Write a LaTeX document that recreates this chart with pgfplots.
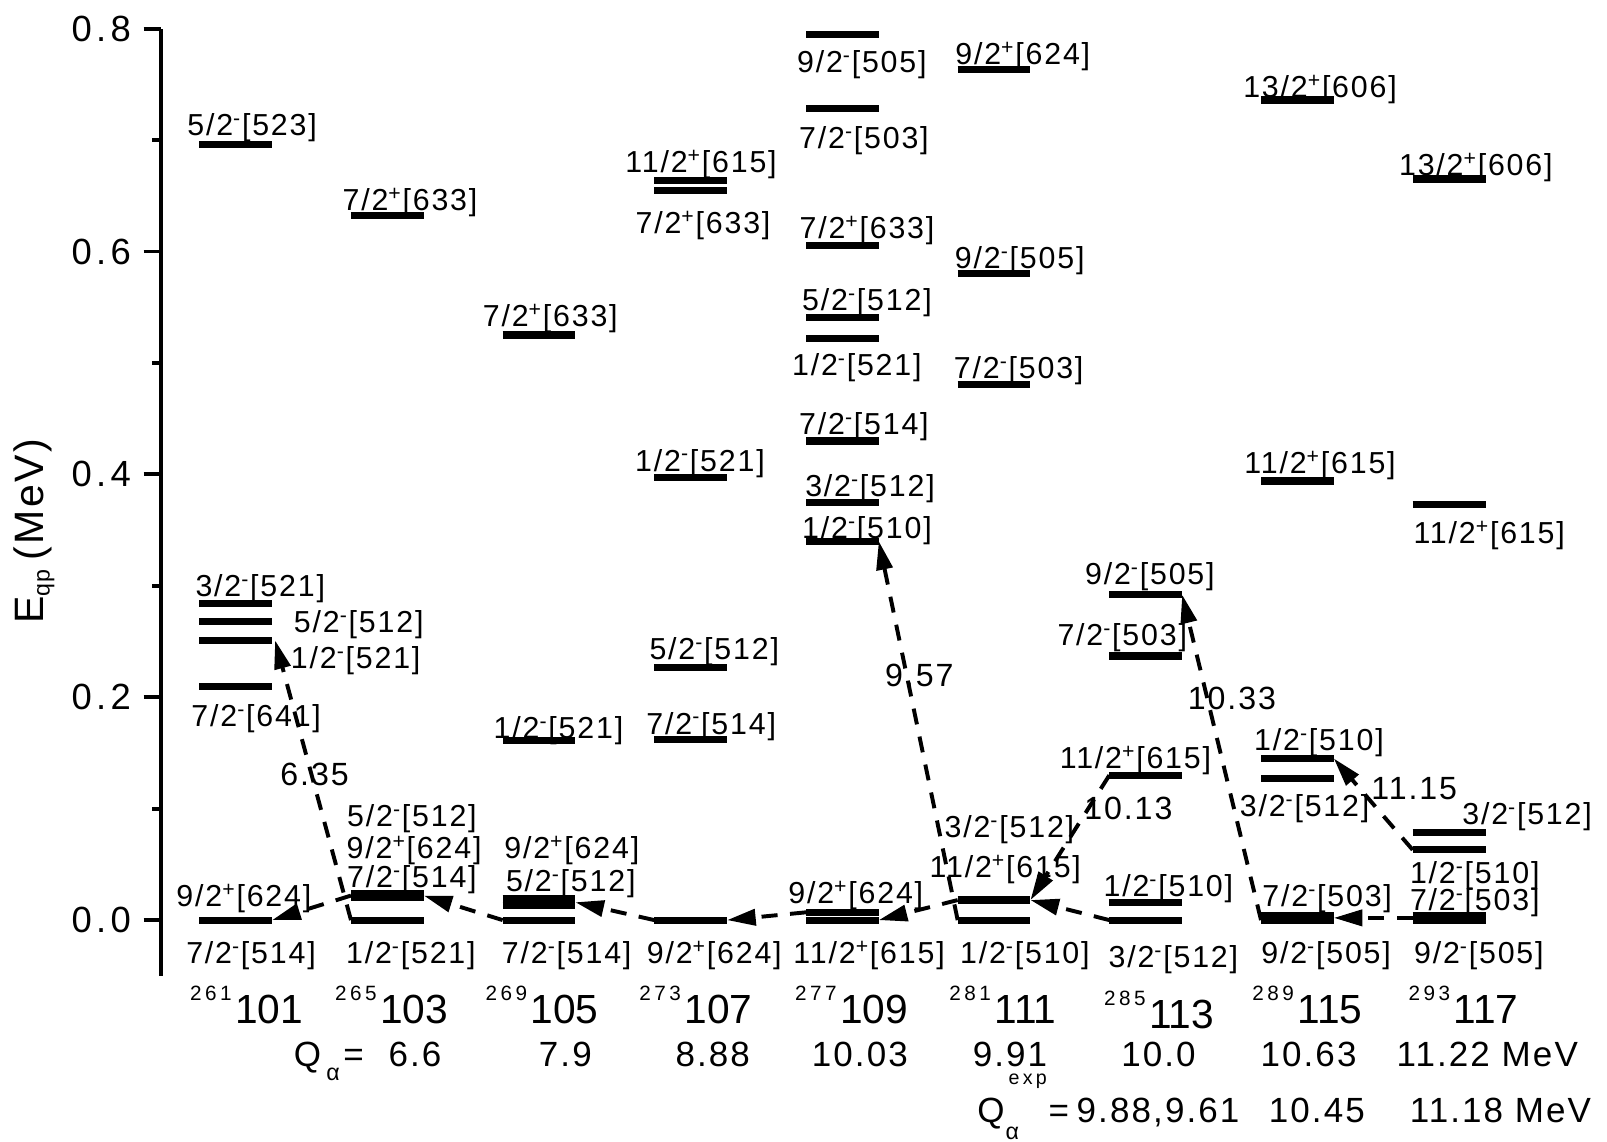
\documentclass[border=0pt]{standalone}
\usepackage{fontspec}
\setmainfont{Liberation Sans}[LetterSpace=6]
\newfontfamily\tickfont{Liberation Sans}[LetterSpace=12]
\newfontfamily\nucfont{Liberation Sans}
\newfontfamily\supfont{Liberation Sans}[LetterSpace=17]
\usepackage{pgfplots}
\pgfplotsset{compat=1.18}
\usetikzlibrary{arrows.meta}

% fonts used in the level scheme
\newcommand{\levfont}{\fontsize{8.5}{10}\selectfont}
\newcommand{\qfont}{\fontsize{9.8}{12}\selectfont}
\newcommand{\valfont}{\fontsize{9}{11}\selectfont}
% Nilsson label  K^pi [N nz Lambda]
\newcommand{\q}[3]{#1/2\textsuperscript{#2}[#3]}
% one single-particle level: x from #1 to #2 at energy #3
\newcommand{\lev}[3]{\addplot[lev] coordinates {(#1,#3) (#2,#3)};}
% label of a level: centre x, baseline energy, text
\newcommand{\lab}[3]{\node[anchor=base, inner sep=0pt, font=\levfont] at (axis cs:#1,#2) {#3};}
% nucleus: centre x, baseline, mass number, Z
\newcommand{\nuc}[4]{\node[anchor=base, inner sep=0pt, font=\nucfont\fontsize{11.4}{13}\selectfont] at (axis cs:#1,#2) {\raisebox{6.5pt}{\supfont\fontsize{5.8}{7}\selectfont #3}\kern1pt#4};}
% Q value under a nucleus
\newcommand{\qv}[3]{\node[anchor=base, inner sep=0pt, font=\qfont] at (axis cs:#1,#2) {#3};}

\begin{document}
\begin{tikzpicture}[
  lev/.style={line width=2pt, black, line cap=butt},
  arr/.style={line width=1.1pt, black, dash pattern=on 4.5pt off 3.5pt,
              -{Triangle[length=8pt,width=4.5pt]}}
]
\begin{axis}[
  x=42.48pt, y=312.1pt,
  xmin=0.51, xmax=10.04, ymin=-0.05, ymax=0.8,
  axis x line=none,
  axis y line*=left,
  clip=false,
  xtick=\empty,
  ytick={0,0.2,0.4,0.6,0.8},
  yticklabels={0.0,0.2,0.4,0.6,0.8},
  minor ytick={0.1,0.3,0.5,0.7},
  tick align=outside,
  major tick length=5pt,
  minor tick length=2.5pt,
  tick style={line width=1.1pt, black},
  axis line style={line width=1.1pt},
  yticklabel style={font=\tickfont\fontsize{10.2}{12}\selectfont},
]
\coordinate (bbsw) at (axis cs:-0.554,-0.1986);
\coordinate (bbne) at (axis cs:10.041,0.8257);

% ---- 261 101
\lev{0.76}{1.24}{0.696}
\lev{0.76}{1.24}{0.284}
\lev{0.76}{1.24}{0.268}
\lev{0.76}{1.24}{0.251}
\lev{0.76}{1.24}{0.210}
\lev{0.76}{1.24}{0.000}
% ---- 265 103
\lev{1.76}{2.24}{0.632}
\lev{1.76}{2.24}{0.024}
\lev{1.76}{2.24}{0.020}
\lev{1.76}{2.24}{0.000}
% ---- 269 105
\lev{2.76}{3.24}{0.525}
\lev{2.76}{3.24}{0.161}
\lev{2.76}{3.24}{0.019}
\lev{2.76}{3.24}{0.013}
\lev{2.76}{3.24}{0.000}
% ---- 273 107
\lev{3.76}{4.24}{0.664}
\lev{3.76}{4.24}{0.655}
\lev{3.76}{4.24}{0.397}
\lev{3.76}{4.24}{0.227}
\lev{3.76}{4.24}{0.162}
\lev{3.76}{4.24}{0.000}
% ---- 277 109
\lev{4.76}{5.24}{0.795}
\lev{4.76}{5.24}{0.728}
\lev{4.76}{5.24}{0.605}
\lev{4.76}{5.24}{0.541}
\lev{4.76}{5.24}{0.522}
\lev{4.76}{5.24}{0.430}
\lev{4.76}{5.24}{0.375}
\lev{4.76}{5.24}{0.340}
\lev{4.76}{5.24}{0.007}
\lev{4.76}{5.24}{0.000}
% ---- 281 111
\lev{5.76}{6.24}{0.763}
\lev{5.76}{6.24}{0.580}
\lev{5.76}{6.24}{0.481}
\lev{5.76}{6.24}{0.018}
\lev{5.76}{6.24}{0.000}
% ---- 285 113
\lev{6.76}{7.24}{0.292}
\lev{6.76}{7.24}{0.237}
\lev{6.76}{7.24}{0.130}
\lev{6.76}{7.24}{0.016}
\lev{6.76}{7.24}{0.000}
% ---- 289 115
\lev{7.76}{8.24}{0.736}
\lev{7.76}{8.24}{0.394}
\lev{7.76}{8.24}{0.145}
\lev{7.76}{8.24}{0.127}
\lev{7.76}{8.24}{0.004}
\lev{7.76}{8.24}{0.000}
% ---- 293 117
\lev{8.76}{9.24}{0.665}
\lev{8.76}{9.24}{0.373}
\lev{8.76}{9.24}{0.079}
\lev{8.76}{9.24}{0.063}
\lev{8.76}{9.24}{0.004}
\lev{8.76}{9.24}{0.000}

% ---- alpha-decay paths
\addplot[arr] coordinates {(1.76,0.000) (1.26,0.251)};
\addplot[arr] coordinates {(1.76,0.022) (1.24,0.000)};
\addplot[arr] coordinates {(2.76,0.000) (2.24,0.022)};
\addplot[arr] coordinates {(3.76,0.000) (3.24,0.016)};
\addplot[arr] coordinates {(4.76,0.007) (4.24,0.000)};
\addplot[arr] coordinates {(5.76,0.018) (5.24,0.000)};
\addplot[arr] coordinates {(5.76,0.000) (5.24,0.340)};
\addplot[arr] coordinates {(6.76,0.130) (6.24,0.018)};
\addplot[arr] coordinates {(6.76,0.000) (6.24,0.018)};
\addplot[arr] coordinates {(7.76,0.000) (7.24,0.292)};
\addplot[arr] coordinates {(8.76,0.002) (8.24,0.002)};
\addplot[arr] coordinates {(8.76,0.063) (8.24,0.145)};

% ---- level labels
\lab{1.108}{0.704}{\q{5}{-}{523}}
\lab{1.162}{0.290}{\q{3}{-}{521}}
\lab{1.811}{0.258}{\q{5}{-}{512}}
\lab{1.791}{0.226}{\q{1}{-}{521}}
\lab{1.135}{0.174}{\q{7}{-}{641}}
\lab{1.054}{0.012}{\q{9}{+}{624}}
\lab{1.101}{-0.0386}{\q{7}{-}{514}}

\lab{2.149}{0.637}{\q{7}{+}{633}}
\lab{2.162}{0.0837}{\q{5}{-}{512}}
\lab{2.176}{0.055}{\q{9}{+}{624}}
\lab{2.162}{0.0294}{\q{7}{-}{514}}
\lab{2.155}{-0.0386}{\q{1}{-}{521}}

\lab{3.074}{0.533}{\q{7}{+}{633}}
\lab{3.128}{0.163}{\q{1}{-}{521}}
\lab{3.216}{0.055}{\q{9}{+}{624}}
\lab{3.209}{0.0257}{\q{5}{-}{512}}
\lab{3.182}{-0.0386}{\q{7}{-}{514}}

\lab{4.068}{0.671}{\q{11}{+}{615}}
\lab{4.081}{0.616}{\q{7}{+}{633}}
\lab{4.061}{0.403}{\q{1}{-}{521}}
\lab{4.155}{0.2336}{\q{5}{-}{512}}
\lab{4.135}{0.167}{\q{7}{-}{514}}
\lab{4.155}{-0.0386}{\q{9}{+}{624}}

\lab{5.128}{0.761}{\q{9}{-}{505}}
\lab{5.142}{0.692}{\q{7}{-}{503}}
\lab{5.162}{0.612}{\q{7}{+}{633}}
\lab{5.162}{0.547}{\q{5}{-}{512}}
\lab{5.095}{0.489}{\q{1}{-}{521}}
\lab{5.142}{0.436}{\q{7}{-}{514}}
\lab{5.182}{0.380}{\q{3}{-}{512}}
\lab{5.162}{0.342}{\q{1}{-}{510}}
\lab{5.088}{0.0147}{\q{9}{+}{624}}
\lab{5.176}{-0.0386}{\q{11}{+}{615}}

\lab{6.189}{0.768}{\q{9}{+}{624}}
\lab{6.169}{0.585}{\q{9}{-}{505}}
\lab{6.162}{0.486}{\q{7}{-}{503}}
\lab{6.101}{0.0745}{\q{3}{-}{512}}
\lab{6.074}{0.0386}{\q{11}{+}{615}}
\lab{6.203}{-0.0386}{\q{1}{-}{510}}

\lab{7.027}{0.301}{\q{9}{-}{505}}
\lab{6.845}{0.246}{\q{7}{-}{503}}
\lab{6.932}{0.136}{\q{11}{+}{615}}
\lab{7.149}{0.0211}{\q{1}{-}{510}}
\lab{7.182}{-0.0423}{\q{3}{-}{512}}

\lab{8.149}{0.738}{\q{13}{+}{606}}
\lab{8.149}{0.401}{\q{11}{+}{615}}
\lab{8.142}{0.152}{\q{1}{-}{510}}
\lab{8.047}{0.0928}{\q{3}{-}{512}}
\lab{8.196}{0.012}{\q{7}{-}{503}}
\lab{8.189}{-0.0386}{\q{9}{-}{505}}

\lab{9.176}{0.668}{\q{13}{+}{606}}
\lab{9.264}{0.338}{\q{11}{+}{615}}
\lab{9.514}{0.0855}{\q{3}{-}{512}}
\lab{9.169}{0.0331}{\q{1}{-}{510}}
\lab{9.169}{0.0083}{\q{7}{-}{503}}
\lab{9.196}{-0.0386}{\q{9}{-}{505}}

% ---- Q values along the decay paths
\node[anchor=base, inner sep=0pt, font=\valfont] at (axis cs:1.520,0.121) {6.35};
\node[anchor=base, inner sep=0pt, font=\valfont] at (axis cs:5.507,0.210) {9.57};
\node[anchor=base, inner sep=0pt, font=\valfont] at (axis cs:6.885,0.090) {10.13};
\node[anchor=base, inner sep=0pt, font=\valfont] at (axis cs:7.568,0.189) {10.33};
\node[anchor=base, inner sep=0pt, font=\valfont] at (axis cs:8.770,0.108) {11.15};

% ---- nuclei
\nuc{1.072}{-0.093}{261}{101}
\nuc{2.028}{-0.093}{265}{103}
\nuc{3.020}{-0.093}{269}{105}
\nuc{4.034}{-0.093}{273}{107}
\nuc{5.061}{-0.093}{277}{109}
\nuc{6.058}{-0.093}{281}{111}
\nuc{7.088}{-0.0975}{285}{113}
\nuc{8.066}{-0.093}{289}{115}
\nuc{9.095}{-0.093}{293}{117}

% ---- calculated Q_alpha
\node[anchor=base west, inner sep=0pt, font=\qfont] at (axis cs:1.378,-0.1313)
  {Q\kern1.5pt\raisebox{-4pt}{\fontsize{6.5}{7}\selectfont α}\kern1pt=};
\qv{2.182}{-0.1313}{6.6}
\qv{3.173}{-0.1313}{7.9}
\qv{4.145}{-0.1313}{8.88}
\qv{5.115}{-0.1313}{10.03}
\qv{6.105}{-0.1313}{9.91}
\qv{7.084}{-0.1313}{10.0}
\qv{8.073}{-0.1313}{10.63}
\node[anchor=base west, inner sep=0pt, font=\qfont] at (axis cs:8.649,-0.1313) {11.22 MeV};

% ---- experimental Q_alpha
\node[anchor=base west, inner sep=0pt, font=\qfont] at (axis cs:5.885,-0.182)
  {Q\kern0.3pt\rlap{\raisebox{-4.7pt}{\fontsize{6.5}{7}\selectfont α}}\kern0.8pt\raisebox{10.8pt}{\supfont\fontsize{5.5}{7}\selectfont exp}\kern0.5pt=};
\qv{7.081}{-0.182}{9.88,9.61}
\qv{8.128}{-0.182}{10.45}
\node[anchor=base west, inner sep=0pt, font=\qfont] at (axis cs:8.736,-0.182) {11.18 MeV};

% ---- axis title
\node[rotate=90, anchor=base, inner sep=0pt, font=\fontsize{11.5}{13}\selectfont] at (axis cs:-0.270,0.349)
  {E\textsubscript{\fontsize{6.5}{7}\selectfont qp}\kern2pt(MeV)};
\end{axis}
\pgfresetboundingbox
\path[use as bounding box] (bbsw) rectangle (bbne);
\end{tikzpicture}
\end{document}
